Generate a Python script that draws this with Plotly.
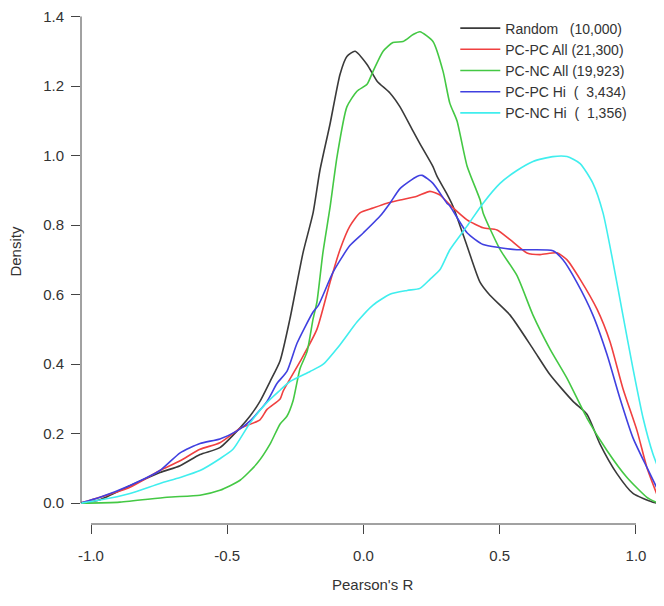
import plotly.graph_objects as go

# ---- data ----
random_x = [-1.033, -0.967, -0.857, -0.747, -0.673, -0.600, -0.527, -0.453, -0.417, -0.380, -0.343, -0.306,
            -0.270, -0.222, -0.185, -0.160, -0.123, -0.086, -0.061, -0.031, 0.013, 0.050, 0.097, 0.134,
            0.182, 0.207, 0.255, 0.270, 0.306, 0.328, 0.380, 0.428, 0.464, 0.538, 0.622, 0.684, 0.769,
            0.820, 0.868, 0.930, 0.989, 1.062, 1.081]
random_y = [0.0, 0.01, 0.05, 0.088, 0.108, 0.14, 0.16, 0.217, 0.25, 0.293, 0.35, 0.41,
            0.53, 0.72, 0.835, 0.957, 1.09, 1.234, 1.285, 1.30, 1.262, 1.214, 1.18, 1.14,
            1.07, 1.034, 0.968, 0.94, 0.89, 0.855, 0.74, 0.635, 0.598, 0.541, 0.444, 0.37, 0.293,
            0.256, 0.17, 0.085, 0.028, 0.003, 0.0]

pcpc_all_x = [-1.040, -0.967, -0.857, -0.747, -0.673, -0.600, -0.527, -0.453, -0.380, -0.354, -0.306, -0.295,
              -0.233, -0.171, -0.123, -0.086, -0.050, -0.013, 0.035, 0.086, 0.134, 0.196, 0.244, 0.281,
              0.317, 0.380, 0.439, 0.490, 0.538, 0.600, 0.648, 0.710, 0.747, 0.795, 0.857, 0.905, 0.952,
              1.004, 1.040, 1.081]
pcpc_all_y = [0.0, 0.017, 0.046, 0.094, 0.122, 0.155, 0.174, 0.215, 0.24, 0.27, 0.30, 0.322,
              0.407, 0.50, 0.635, 0.73, 0.797, 0.835, 0.849, 0.863, 0.872, 0.883, 0.897, 0.886,
              0.858, 0.815, 0.792, 0.786, 0.758, 0.72, 0.715, 0.72, 0.70, 0.644, 0.558, 0.464, 0.33,
              0.208, 0.103, 0.017]

pcnc_all_x = [-1.040, -0.894, -0.721, -0.600, -0.527, -0.453, -0.391, -0.343, -0.306, -0.281, -0.259, -0.233,
              -0.207, -0.185, -0.171, -0.149, -0.123, -0.097, -0.061, -0.024, 0.013, 0.035, 0.072, 0.108,
              0.145, 0.182, 0.207, 0.255, 0.292, 0.317, 0.343, 0.380, 0.428, 0.439, 0.501, 0.563, 0.622,
              0.684, 0.747, 0.820, 0.894, 0.967, 1.040, 1.081]
pcnc_all_y = [0.0, 0.003, 0.017, 0.023, 0.037, 0.066, 0.114, 0.17, 0.228, 0.25, 0.293, 0.387,
              0.436, 0.53, 0.578, 0.72, 0.85, 0.997, 1.14, 1.185, 1.205, 1.242, 1.30, 1.325,
              1.328, 1.348, 1.356, 1.328, 1.242, 1.15, 1.10, 0.97, 0.872, 0.835, 0.73, 0.655, 0.541,
              0.444, 0.359, 0.245, 0.151, 0.074, 0.017, 0.0]

pcpc_hi_x = [-1.040, -0.967, -0.857, -0.747, -0.673, -0.600, -0.527, -0.464, -0.417, -0.354, -0.317, -0.281,
             -0.244, -0.185, -0.165, -0.112, -0.050, 0.0, 0.061, 0.097, 0.134, 0.196, 0.215, 0.255,
             0.306, 0.317, 0.380, 0.439, 0.501, 0.563, 0.622, 0.695, 0.732, 0.783, 0.842, 0.894, 0.941,
             0.989, 1.040, 1.081]
pcpc_hi_y = [0.0, 0.017, 0.051, 0.094, 0.145, 0.172, 0.185, 0.208, 0.236, 0.293, 0.345, 0.379,
             0.46, 0.55, 0.57, 0.664, 0.741, 0.778, 0.826, 0.863, 0.905, 0.94, 0.943, 0.92,
             0.863, 0.855, 0.778, 0.744, 0.735, 0.729, 0.729, 0.726, 0.70, 0.635, 0.541, 0.427, 0.302,
             0.188, 0.103, 0.037]

pcnc_hi_x = [-1.040, -0.967, -0.857, -0.747, -0.673, -0.600, -0.527, -0.479, -0.417, -0.354, -0.306, -0.270,
             -0.196, -0.149, -0.086, -0.024, 0.035, 0.097, 0.160, 0.207, 0.244, 0.281, 0.317, 0.380,
             0.439, 0.501, 0.563, 0.622, 0.695, 0.747, 0.795, 0.842, 0.879, 0.916, 0.952, 0.989, 1.026,
             1.062, 1.081]
pcnc_hi_y = [0.0, 0.009, 0.028, 0.057, 0.074, 0.094, 0.128, 0.155, 0.23, 0.29, 0.325, 0.35,
             0.379, 0.399, 0.456, 0.521, 0.57, 0.601, 0.612, 0.618, 0.644, 0.672, 0.729, 0.797,
             0.863, 0.92, 0.957, 0.983, 0.997, 0.997, 0.977, 0.92, 0.835, 0.692, 0.541, 0.387, 0.245,
             0.142, 0.103]

series_names = ["Random\u00a0\u00a0\u00a0(10,000)", "PC-PC All (21,300)", "PC-NC All (19,923)",
                "PC-PC Hi\u00a0\u00a0(\u00a0\u00a03,434)", "PC-NC Hi\u00a0\u00a0(\u00a0\u00a01,356)"]
series_colors = ["#3a3a3a", "#f04040", "#44c844", "#4040e0", "#40eeee"]

x_ticks = [-1.0, -0.5, 0.0, 0.5, 1.0]
x_tick_labels = ["-1.0", "-0.5", "0.0", "0.5", "1.0"]
y_ticks = [0.0, 0.2, 0.4, 0.6, 0.8, 1.0, 1.2, 1.4]
y_tick_labels = ["0.0", "0.2", "0.4", "0.6", "0.8", "1.0", "1.2", "1.4"]

FONT = "Arial, Liberation Sans, sans-serif"
TXT = "#333333"

fig = go.Figure()
all_series = [(random_x, random_y), (pcpc_all_x, pcpc_all_y), (pcnc_all_x, pcnc_all_y),
              (pcpc_hi_x, pcpc_hi_y), (pcnc_hi_x, pcnc_hi_y)]
for (xs, ys), name, col in zip(all_series, series_names, series_colors):
    fig.add_trace(go.Scatter(x=xs, y=ys, mode="lines", name=name,
                             line=dict(color=col, width=1.6, shape="spline", smoothing=0.6)))

# the page body has an 8px margin, so the figure is sized to fit inside the window
fig.update_layout(
    width=656, height=598,
    margin=dict(l=73, r=0, t=0, b=82),
    paper_bgcolor="white", plot_bgcolor="white",
    font=dict(family=FONT, size=15, color=TXT),
    showlegend=True,
    legend=dict(x=0.642, y=1.001, xanchor="left", yanchor="top",
                bgcolor="rgba(0,0,0,0)", borderwidth=0, itemwidth=40,
                font=dict(family=FONT, size=14, color=TXT), tracegroupgap=0),
)
fig.update_xaxes(range=[-1.0367, 1.1028], tickvals=x_ticks, ticktext=x_tick_labels,
                 ticks="outside", ticklen=9, tickwidth=1, tickcolor="#444", ticklabelstandoff=9,
                 showgrid=False, zeroline=False, showline=False, fixedrange=True)
fig.update_yaxes(range=[-0.0598, 1.410], tickvals=y_ticks, ticktext=y_tick_labels,
                 ticks="outside", ticklen=9, tickwidth=1, tickcolor="#444", ticklabelstandoff=4,
                 ticklabeloverflow="allow",
                 showgrid=False, zeroline=False, showline=False, fixedrange=True)

# R-style axis lines spanning only the tick range
fig.add_shape(type="line", xref="x", yref="paper", x0=x_ticks[0], x1=x_ticks[-1], y0=0, y1=0,
              line=dict(color="#444", width=1))
fig.add_shape(type="line", xref="paper", yref="y", x0=0, x1=0, y0=y_ticks[0], y1=y_ticks[-1],
              line=dict(color="#444", width=1))

fig.add_annotation(text="Pearson's R", xref="paper", yref="paper", x=0.5, y=-0.118,
                   xanchor="center", yanchor="middle",
                   showarrow=False, font=dict(family=FONT, size=15, color=TXT))
fig.add_annotation(text="Density", xref="paper", yref="paper", x=-0.1115, y=0.535,
                   xanchor="center", yanchor="middle",
                   textangle=-90, showarrow=False, font=dict(family=FONT, size=15, color=TXT))

fig.write_html("out.html")
